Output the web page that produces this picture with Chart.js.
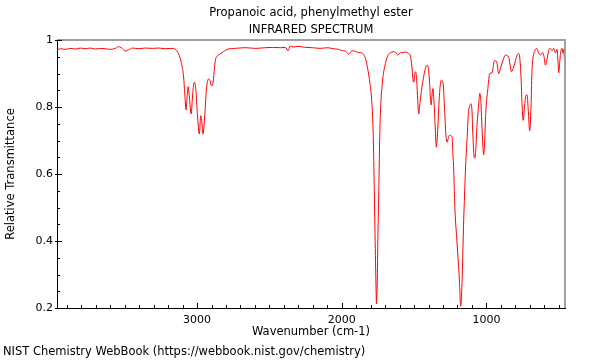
<!DOCTYPE html>
<html>
<head>
<meta charset="utf-8">
<script src="https://cdn.jsdelivr.net/npm/chart.js@4.4.0/dist/chart.umd.min.js"></script>
<style>
  body { margin: 0; background: #fff; }
  #grafico { display: block; }
</style>
</head>
<body>
<canvas id="grafico" width="600" height="360"></canvas>
<script>
const numerosDeOnda = [
  3968, 3945, 3910, 3876, 3841, 3807, 3772, 3738, 3703, 3668, 3634, 3599, 3565, 3544, 3523, 3496,
  3475, 3447, 3406, 3357, 3309, 3267, 3219, 3171, 3150, 3129, 3108, 3093, 3085, 3076, 3069, 3062,
  3053, 3041, 3030, 3019, 3008, 2998, 2984, 2975, 2968, 2959, 2946, 2936, 2920, 2910, 2901, 2891,
  2873, 2852, 2827, 2793, 2735, 2666, 2597, 2528, 2479, 2424, 2389, 2371, 2355, 2334, 2306, 2251,
  2203, 2148, 2099, 2058, 2023, 1995, 1975, 1952, 1928, 1905, 1883, 1864, 1848, 1833, 1819, 1805,
  1795, 1784, 1777, 1770, 1763, 1760, 1755, 1750, 1744, 1738, 1733, 1722, 1710, 1698, 1687, 1676,
  1664, 1643, 1629, 1613, 1595, 1574, 1560, 1539, 1525, 1515, 1507, 1501, 1495, 1489, 1482, 1475,
  1468, 1460, 1449, 1438, 1425, 1410, 1401, 1394, 1382, 1375, 1370, 1363, 1354, 1346, 1337, 1327,
  1318, 1311, 1299, 1290, 1281, 1273, 1265, 1254, 1245, 1237, 1232, 1226, 1220, 1214, 1207, 1203,
  1195, 1187, 1178, 1168, 1163, 1157, 1151, 1145, 1133, 1125, 1114, 1107, 1100, 1094, 1087, 1081,
  1074, 1066, 1055, 1046, 1039, 1031, 1024, 1019, 1012, 1005, 991, 977, 961, 945, 931, 915,
  903, 885, 869, 846, 827, 811, 788, 777, 768, 760, 753, 746, 737, 727, 719, 711,
  701, 692, 686, 677, 668, 654, 638, 627, 615, 604, 592, 583, 576, 568, 558, 546,
  535, 523, 511, 506, 500, 494, 488, 477, 470, 465, 459, 454
];
const transmitancia = [
  0.970, 0.974, 0.972, 0.975, 0.973, 0.976, 0.974, 0.976, 0.973, 0.975, 0.974, 0.972, 0.975, 0.980, 0.977, 0.967,
  0.970, 0.976, 0.974, 0.976, 0.975, 0.976, 0.974, 0.975, 0.972, 0.960, 0.930, 0.890, 0.840, 0.791, 0.830, 0.861,
  0.830, 0.779, 0.840, 0.874, 0.850, 0.780, 0.719, 0.774, 0.760, 0.719, 0.780, 0.850, 0.884, 0.878, 0.863, 0.870,
  0.940, 0.955, 0.962, 0.972, 0.975, 0.977, 0.975, 0.977, 0.978, 0.977, 0.978, 0.968, 0.982, 0.979, 0.981, 0.978,
  0.977, 0.975, 0.977, 0.974, 0.972, 0.968, 0.967, 0.958, 0.968, 0.966, 0.962, 0.962, 0.956, 0.940, 0.910, 0.870,
  0.830, 0.740, 0.600, 0.420, 0.260, 0.212, 0.270, 0.420, 0.550, 0.700, 0.780, 0.860, 0.905, 0.930, 0.948, 0.958,
  0.962, 0.965, 0.964, 0.955, 0.962, 0.963, 0.964, 0.960, 0.952, 0.920, 0.880, 0.874, 0.900, 0.905, 0.880, 0.820,
  0.779, 0.810, 0.850, 0.880, 0.910, 0.925, 0.915, 0.880, 0.806, 0.840, 0.855, 0.820, 0.740, 0.680, 0.730, 0.820,
  0.870, 0.880, 0.868, 0.800, 0.720, 0.695, 0.705, 0.716, 0.714, 0.710, 0.660, 0.612, 0.520, 0.463, 0.420, 0.394,
  0.340, 0.284, 0.205, 0.284, 0.370, 0.463, 0.540, 0.612, 0.711, 0.780, 0.805, 0.810, 0.790, 0.720, 0.660, 0.647,
  0.670, 0.740, 0.800, 0.841, 0.820, 0.740, 0.680, 0.657, 0.700, 0.780, 0.851, 0.900, 0.902, 0.938, 0.937, 0.900,
  0.915, 0.940, 0.955, 0.948, 0.905, 0.920, 0.955, 0.960, 0.940, 0.880, 0.800, 0.760, 0.800, 0.835, 0.836, 0.790,
  0.729, 0.800, 0.900, 0.950, 0.965, 0.975, 0.960, 0.955, 0.962, 0.955, 0.925, 0.940, 0.955, 0.972, 0.975, 0.968,
  0.975, 0.962, 0.972, 0.940, 0.902, 0.930, 0.960, 0.975, 0.960, 0.972, 0.935, 1.000
];

const ticksX = [1000, 2000, 3000];
const ticksY = [0.2, 0.4, 0.6, 0.8, 1];
const titulo = ["Propanoic acid, phenylmethyl ester", "INFRARED SPECTRUM"];
const tituloX = "Wavenumber (cm-1)";
const tituloY = "Relative Transmittance";
const pie = "NIST Chemistry WebBook (https://webbook.nist.gov/chemistry)";

const fuente = "'DejaVu Sans', sans-serif";

// marco gris, ticks hacia adentro y textos de encabezado / pie
const decoracion = {
  id: "decoracion",
  afterDraw(chart) {
    const { ctx, chartArea, scales } = chart;
    const { left, right, top, bottom } = chartArea;
    ctx.save();

    ctx.strokeStyle = "#a0a0a0";
    ctx.lineWidth = 2;
    ctx.beginPath();
    ctx.moveTo(left, top);
    ctx.lineTo(right, top);
    ctx.lineTo(right, bottom);
    ctx.stroke();

    ctx.strokeStyle = "#000";
    ctx.lineWidth = 1;
    ctx.beginPath();
    for (let v = 500; v <= 3900; v += 100) {
      const px = Math.round(scales.x.getPixelForValue(v)) + 0.5;
      const largo = v % 1000 === 0 ? 5 : 3;
      ctx.moveTo(px, bottom);
      ctx.lineTo(px, bottom - largo);
    }
    for (let i = 4; i <= 20; i++) {
      const py = Math.round(scales.y.getPixelForValue(i * 0.05)) + 0.5;
      const mayor = i % 4 === 0;
      ctx.moveTo(left - (mayor ? 2 : 0), py);
      ctx.lineTo(left + (mayor ? 5 : 3), py);
    }
    ctx.stroke();

    ctx.fillStyle = "#000";
    ctx.font = "11.5px " + fuente;
    ctx.textAlign = "center";
    ctx.textBaseline = "middle";
    const centro = (left + right) / 2;
    ctx.fillText(titulo[0], centro, 13);
    ctx.fillText(titulo[1], centro, 30);

    ctx.textAlign = "left";
    ctx.fillText(pie, 3, 352);
    ctx.restore();
  },
};

function pintarEspectro() {
  const ctx = document.getElementById("grafico");

  const puntos = numerosDeOnda.map((x, i) => ({ x, y: transmitancia[i] }));

  const cfg = {
    type: "line",
    data: {
      datasets: [
        {
          data: puntos,
          borderColor: "rgb(255, 0, 0)",
          borderWidth: 1,
          pointRadius: 0,
          cubicInterpolationMode: "monotone",
          fill: false,
        },
      ],
    },
    options: {
      responsive: false,
      animation: false,
      devicePixelRatio: 1,
      layout: {
        padding: { top: 40, right: 35, bottom: 0, left: 0 },
      },
      plugins: {
        legend: { display: false },
        tooltip: { enabled: false },
      },
      scales: {
        x: {
          type: "linear",
          reverse: true,
          min: 457,
          max: 3968,
          afterBuildTicks: (scale) => {
            scale.ticks = ticksX.map((value) => ({ value }));
          },
          afterFit: (scale) => {
            scale.height = 52;
          },
          grid: { display: false, drawTicks: false },
          border: { display: true, color: "#000", width: 1 },
          ticks: {
            color: "#000",
            padding: 6,
            maxRotation: 0,
            font: { family: fuente, size: 11 },
            callback: (v) => String(v),
          },
          title: {
            display: true,
            text: tituloX,
            color: "#000",
            font: { family: fuente, size: 11.5 },
            padding: { top: 0, bottom: 21 },
          },
        },
        y: {
          min: 0.2,
          max: 1,
          afterBuildTicks: (scale) => {
            scale.ticks = ticksY.map((value) => ({ value }));
          },
          afterFit: (scale) => {
            scale.width = 57;
          },
          grid: { display: false, drawTicks: false },
          border: { display: true, color: "#000", width: 1 },
          ticks: {
            color: "#000",
            padding: 4,
            font: { family: fuente, size: 11 },
            callback: (v) => (v === 1 ? "1" : v.toFixed(1)),
          },
          title: {
            display: true,
            text: tituloY,
            color: "#000",
            font: { family: fuente, size: 11.5 },
            padding: { top: 4, bottom: 0 },
          },
        },
      },
    },
    plugins: [decoracion],
  };

  new Chart(ctx, cfg);
}

pintarEspectro();
</script>
</body>
</html>
